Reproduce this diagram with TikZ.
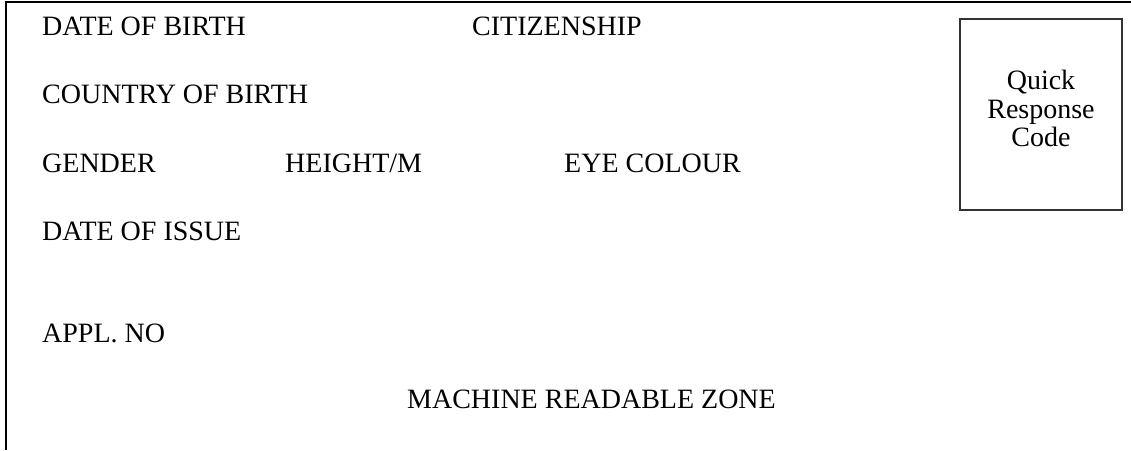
\documentclass[tikz,border=0pt]{standalone}
\usepackage{fontspec}
\setmainfont{Liberation Serif}
\begin{document}
\begin{tikzpicture}[x=1pt, y=-1pt,
        every node/.style={inner sep=0pt, font=\fontsize{28}{28.5}\selectfont},
        field/.style={anchor=base west},
        qrbox/.style={draw=black!80, line width=1.2pt, minimum width=162pt,
        minimum height=191pt}]
    \useasboundingbox (0,0) rectangle (1131,450);
    % card border, left and top only
    \coordinate (tl) at (6,2);
    \coordinate (tr) at (1131,2);
    \coordinate (bl) at (6,450);
    \draw[line width=1.5pt] (bl) -- (tl) -- (tr);
    % fields
    \node[field] (dob) at (42,35) {DATE OF BIRTH};
    \node[field] (cit) at (472,35) {CITIZENSHIP};
    \node[field] (cob) at (42,103.5) {COUNTRY OF BIRTH};
    \node[field] (gen) at (42,172) {GENDER};
    \node[field] (hgt) at (285,172) {HEIGHT/M};
    \node[field] (eye) at (564,172) {EYE COLOUR};
    \node[field] (doi) at (42,240) {DATE OF ISSUE};
    \node[field] (app) at (42,342) {APPL. NO};
    \node[anchor=base] (mrz) at (591.5,408) {MACHINE READABLE ZONE};
    % quick response code box
    \node[qrbox] (qr) at (1041,114.5) {};
    \node[align=center] (qrtext) at ([yshift=6pt]qr.center) {Quick\\Response\\Code};
\end{tikzpicture}
\end{document}
